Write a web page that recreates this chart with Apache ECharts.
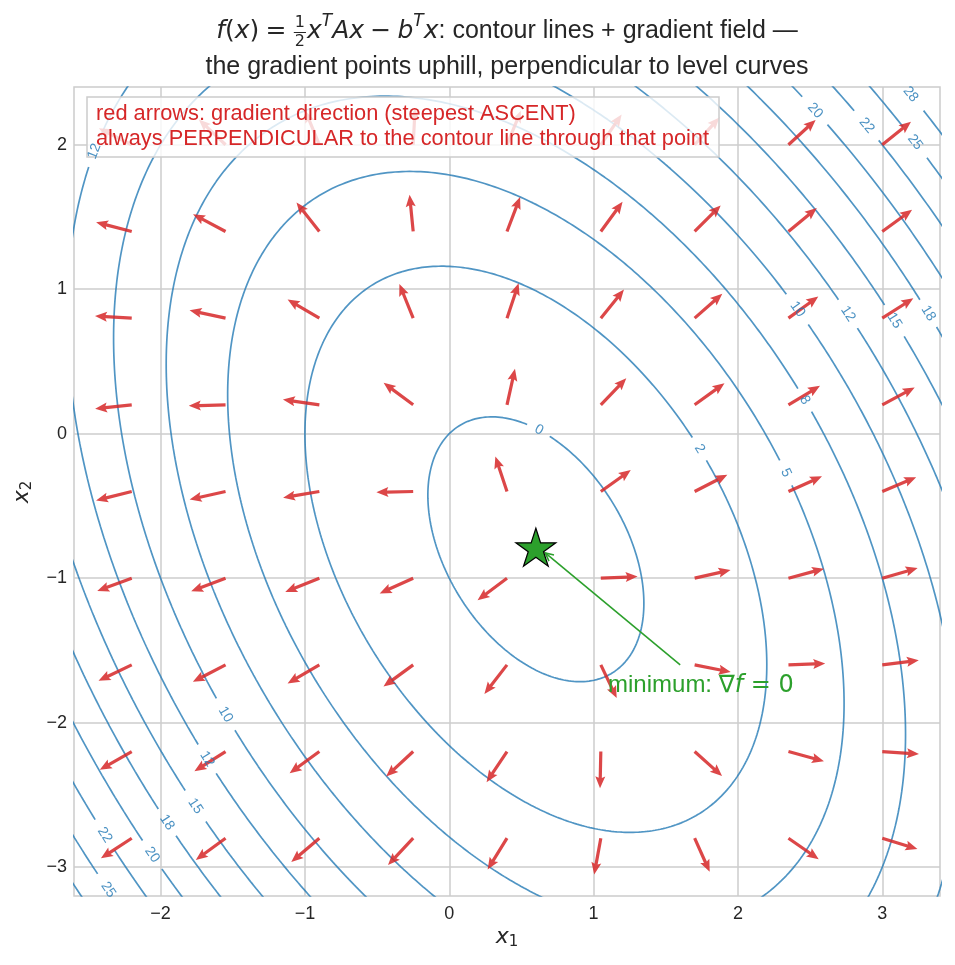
<!DOCTYPE html>
<html>
<head>
<meta charset="utf-8">
<script src="https://cdn.jsdelivr.net/npm/echarts@6/dist/echarts.min.js"></script>
<style>
html, body { margin: 0; padding: 0; background: #fff; }
#main { width: 955px; height: 965px; }
</style>
</head>
<body>
<div id="main"></div>
<script>
// f(x) = 1/2 x^T A x - b^T x
var A = [[3, 1], [1, 2]];
var bVec = [1, -1];
var minPoint = [0.6, -0.8];

// contour levels and the text matplotlib printed on them
var levels = [0, 2.5, 5, 7.5, 10, 12.5, 15, 17.5, 20, 22.5, 25, 27.5];
var levelText = ['0', '2', '5', '8', '10', '12', '15', '18', '20', '22', '25', '28'];

// where the inline labels sit: [level index, x1, x2]
var labelSpots = [
    [0, 0.62, 0.03], [1, 1.74, -0.10], [2, 2.34, -0.26], [3, 2.48, 0.24],
    [4, 2.41, 0.87], [5, 2.77, 0.84], [6, 3.10, 0.78], [7, 3.32, 0.84],
    [8, 2.54, 2.26], [9, 2.90, 2.14], [10, 3.23, 2.03], [11, 3.21, 2.35],
    [5, -2.47, 1.95], [4, -1.55, -1.95], [5, -1.67, -2.26], [6, -1.75, -2.57],
    [7, -1.95, -2.69], [8, -2.05, -2.92], [9, -2.37, -2.78], [10, -2.36, -3.14]
];

// quiver grid
var arrowX = [-2.2, -1.55, -0.9, -0.25, 0.4, 1.05, 1.7, 2.35, 3.0];
var arrowY = [-2.8, -2.2, -1.6, -1.0, -0.4, 0.2, 0.8, 1.4, 2.0];
var arrowLen = 0.255;

var xTicks = [-2, -1, 0, 1, 2, 3];
var yTicks = [-3, -2, -1, 0, 1, 2];
var xRange = [-2.6, 3.4];
var yRange = [-3.2, 2.4];

var G = { left: 74, right: 15, top: 87, bottom: 69 };
var W = 955, H = 965;
var pxX = (W - G.left - G.right) / (xRange[1] - xRange[0]);
var pxY = (H - G.top - G.bottom) / (yRange[1] - yRange[0]);

var BLUE = '#1f77b4', RED = '#d62728', GREEN = '#2ca02c', INK = '#262626';
var SANS = '"Liberation Sans", Arial, sans-serif';
var MATH = '"DejaVu Sans", sans-serif';
var SP = '\u2005';

function fval(x, y) {
    return 0.5 * (A[0][0] * x * x + 2 * A[0][1] * x * y + A[1][1] * y * y) - bVec[0] * x - bVec[1] * y;
}
function grad(x, y) {
    return [A[0][0] * x + A[0][1] * y - bVec[0], A[1][0] * x + A[1][1] * y - bVec[1]];
}
var fmin = fval(minPoint[0], minPoint[1]);

var mctx = document.createElement('canvas').getContext('2d');
function tw(font, s) { mctx.font = font; return mctx.measureText(s).width; }

// lay out a run of mixed text pieces, returns graphic children
function runLine(segs, x0, midY, align, color) {
    var total = 0;
    segs.forEach(function (s) {
        if (s.frac) {
            s.w = Math.max(tw(s.font, s.frac[0]), tw(s.font, s.frac[1])) + 4;
        } else {
            s.w = tw(s.font, s.s);
        }
        total += s.w;
    });
    var x = align === 'center' ? x0 - total / 2 : x0;
    var out = [];
    segs.forEach(function (s) {
        if (s.frac) {
            var cx = x + s.w / 2;
            out.push({ type: 'text', x: cx, y: midY - 8, style: { text: s.frac[0], font: s.font, fill: color, align: 'center', verticalAlign: 'middle', textAlign: 'center', textVerticalAlign: 'middle' } });
            out.push({ type: 'text', x: cx, y: midY + 11, style: { text: s.frac[1], font: s.font, fill: color, align: 'center', verticalAlign: 'middle', textAlign: 'center', textVerticalAlign: 'middle' } });
            out.push({ type: 'line', shape: { x1: x + 1, y1: midY + 1.5, x2: x + s.w - 1, y2: midY + 1.5 }, style: { stroke: color, lineWidth: 1 } });
        } else {
            out.push({ type: 'text', x: x, y: midY + (s.dy || 0), style: { text: s.s, font: s.font, fill: color, align: 'left', verticalAlign: 'middle', textAlign: 'left', textVerticalAlign: 'middle' } });
        }
        x += s.w;
    });
    return out;
}

// contour polylines with gaps where the labels go
var NPT = 720;
var contourPts = levels.map(function (c) {
    var pts = [];
    for (var i = 0; i <= NPT; i++) {
        var t = 2 * Math.PI * i / NPT;
        var d = [Math.cos(t), Math.sin(t)];
        var q = A[0][0] * d[0] * d[0] + 2 * A[0][1] * d[0] * d[1] + A[1][1] * d[1] * d[1];
        var r = Math.sqrt(2 * (c - fmin) / q);
        pts.push([minPoint[0] + r * d[0], minPoint[1] + r * d[1]]);
    }
    return pts;
});

var LABEL_FONT = '14px ' + SANS;
var gapMask = levels.map(function () { return []; });
var labelData = labelSpots.map(function (sp) {
    var li = sp[0], pts = contourPts[li];
    var best = 0, bd = 1e9;
    for (var i = 0; i < pts.length; i++) {
        var dx = (pts[i][0] - sp[1]) * pxX, dy = (pts[i][1] - sp[2]) * pxY;
        var dd = dx * dx + dy * dy;
        if (dd < bd) { bd = dd; best = i; }
    }
    var p = pts[best];
    var a = pts[(best - 1 + pts.length) % pts.length], b = pts[(best + 1) % pts.length];
    var ang = Math.atan2(-(b[1] - a[1]) * pxY, (b[0] - a[0]) * pxX);
    if (ang > Math.PI / 2) ang -= Math.PI;
    if (ang < -Math.PI / 2) ang += Math.PI;
    var half = tw(LABEL_FONT, levelText[li]) / 2 + 8;
    for (var j = 0; j < pts.length; j++) {
        var ex = (pts[j][0] - p[0]) * pxX, ey = (pts[j][1] - p[1]) * pxY;
        if (ex * ex + ey * ey < half * half) gapMask[li][j] = true;
    }
    return [p[0], p[1], -ang, levelText[li]];
});

var contourSeries = levels.map(function (c, li) {
    var data = contourPts[li].map(function (p, j) {
        return gapMask[li][j] ? ['-', '-'] : p;
    });
    return {
        type: 'line',
        data: data,
        showSymbol: false,
        symbol: 'none',
        connectNulls: false,
        silent: true,
        z: 2,
        lineStyle: { color: BLUE, opacity: 0.78, width: 1.7 },
        animation: false
    };
});

var arrowData = [];
arrowY.forEach(function (y) {
    arrowX.forEach(function (x) { arrowData.push([x, y]); });
});

function starPath() {
    var s = 'path://';
    for (var k = 0; k < 10; k++) {
        var r = k % 2 === 0 ? 1 : 0.382;
        var a = -Math.PI / 2 + k * Math.PI / 5;
        s += (k === 0 ? 'M' : 'L') + (r * Math.cos(a)).toFixed(4) + ' ' + (r * Math.sin(a)).toFixed(4) + ' ';
    }
    return s + 'Z';
}

var chart = echarts.init(document.getElementById('main'), null, { renderer: 'canvas' });

var titleLine1 = runLine([
    { s: 'f', font: 'italic 25px ' + MATH },
    { s: '(', font: '25px ' + MATH },
    { s: 'x', font: 'italic 25px ' + MATH },
    { s: ')' + SP + '=' + SP, font: '25px ' + MATH },
    { frac: ['1', '2'], font: '16px ' + MATH },
    { s: 'x', font: 'italic 25px ' + MATH },
    { s: 'T', font: 'italic 17px ' + MATH, dy: -9 },
    { s: 'Ax', font: 'italic 25px ' + MATH },
    { s: SP + '\u2212' + SP, font: '25px ' + MATH },
    { s: 'b', font: 'italic 25px ' + MATH },
    { s: 'T', font: 'italic 17px ' + MATH, dy: -9 },
    { s: 'x', font: 'italic 25px ' + MATH },
    { s: ': contour lines + gradient field \u2014', font: '25px ' + SANS }
], 507, 31, 'center', INK);

var titleLine2 = runLine([
    { s: 'the gradient points uphill, perpendicular to level curves', font: '25px ' + SANS }
], 507, 67, 'center', INK);

var xName = runLine([
    { s: 'x', font: 'italic 22px ' + MATH },
    { s: '1', font: '15px ' + MATH, dy: 5 }
], 507, 937, 'center', INK);

var yName = runLine([
    { s: 'x', font: 'italic 22px ' + MATH },
    { s: '2', font: '15px ' + MATH, dy: 5 }
], 0, 0, 'center', INK);

var minLabel = [
    { s: 'minimum: ', font: '24px ' + SANS },
    { s: '\u2207', font: '24px ' + MATH },
    { s: 'f', font: 'italic 24px ' + MATH },
    { s: ' = 0', font: '24px ' + MATH }
];

var option = {
    animation: false,
    backgroundColor: '#ffffff',
    grid: {
        left: G.left, right: G.right, top: G.top, bottom: G.bottom,
        show: true, borderColor: '#cccccc', borderWidth: 1.5,
        containLabel: false
    },
    xAxis: {
        type: 'value', min: xRange[0], max: xRange[1],
        axisLine: { show: false },
        axisTick: { show: false, customValues: xTicks },
        axisLabel: {
            customValues: xTicks, fontSize: 18, color: INK, fontFamily: SANS, margin: 9,
            formatter: function (v) { return String(v).replace('-', '\u2212'); }
        },
        splitLine: { show: true, lineStyle: { color: '#cccccc', width: 1.5 } }
    },
    yAxis: {
        type: 'value', min: yRange[0], max: yRange[1],
        axisLine: { show: false },
        axisTick: { show: false, customValues: yTicks },
        axisLabel: {
            customValues: yTicks, fontSize: 18, color: INK, fontFamily: SANS, margin: 7,
            formatter: function (v) { return String(v).replace('-', '\u2212'); }
        },
        splitLine: { show: true, lineStyle: { color: '#cccccc', width: 1.5 } }
    },
    graphic: [
        { type: 'group', children: titleLine1.concat(titleLine2).concat(xName), z: 100 },
        { type: 'group', x: 22, y: 492, rotation: Math.PI / 2, children: yName, z: 100 },
        {
            type: 'rect', z: 100,
            shape: { x: 87, y: 97, width: 632, height: 60 },
            style: { fill: 'rgba(255,255,255,0.8)', stroke: '#cccccc', lineWidth: 1.5 }
        },
        {
            type: 'text', z: 101, x: 96, y: 114,
            style: { text: 'red arrows: gradient direction (steepest ASCENT)', font: '21.8px ' + SANS, fill: RED, verticalAlign: 'middle', textVerticalAlign: 'middle' }
        },
        {
            type: 'text', z: 101, x: 96, y: 139,
            style: { text: 'always PERPENDICULAR to the contour line through that point', font: '21.8px ' + SANS, fill: RED, verticalAlign: 'middle', textVerticalAlign: 'middle' }
        }
    ],
    series: contourSeries.concat([
        {
            type: 'custom',
            z: 110,
            silent: true,
            data: labelData,
            renderItem: function (params, api) {
                var p = api.coord([api.value(0), api.value(1)]);
                var d = labelData[params.dataIndex];
                return {
                    type: 'text', x: p[0], y: p[1], rotation: d[2],
                    style: { text: d[3], font: LABEL_FONT, fill: BLUE, opacity: 0.8, align: 'center', verticalAlign: 'middle', textAlign: 'center', textVerticalAlign: 'middle' }
                };
            }
        },
        {
            type: 'custom',
            z: 4,
            silent: true,
            data: arrowData,
            renderItem: function (params, api) {
                var x = api.value(0), y = api.value(1);
                var g = grad(x, y);
                var n = Math.sqrt(g[0] * g[0] + g[1] * g[1]);
                var p0 = api.coord([x, y]);
                var p1 = api.coord([x + arrowLen * g[0] / n, y + arrowLen * g[1] / n]);
                var dx = p1[0] - p0[0], dy = p1[1] - p0[1];
                var L = Math.sqrt(dx * dx + dy * dy);
                var ux = dx / L, uy = dy / L, nx = -uy, ny = ux;
                var sw = 1.6, hw = 5, hl = 12, ha = 10.5;
                function pt(along, side) {
                    return [p0[0] + ux * along + nx * side, p0[1] + uy * along + ny * side];
                }
                return {
                    type: 'polygon',
                    shape: { points: [pt(0, sw), pt(L - ha, sw), pt(L - hl, hw), pt(L, 0), pt(L - hl, -hw), pt(L - ha, -sw), pt(0, -sw)] },
                    style: { fill: RED, opacity: 0.85 }
                };
            }
        },
        {
            type: 'custom',
            z: 5,
            silent: true,
            data: [[1.6, -1.6, 0.665, -0.825, 1.1, -1.745]],
            renderItem: function (params, api) {
                var a = api.coord([api.value(0), api.value(1)]);
                var b = api.coord([api.value(2), api.value(3)]);
                var t = api.coord([api.value(4), api.value(5)]);
                var ang = Math.atan2(a[1] - b[1], a[0] - b[0]);
                var hl = 9, spread = 0.45;
                var w1 = [b[0] + hl * Math.cos(ang + spread), b[1] + hl * Math.sin(ang + spread)];
                var w2 = [b[0] + hl * Math.cos(ang - spread), b[1] + hl * Math.sin(ang - spread)];
                return {
                    type: 'group',
                    children: [
                        { type: 'polyline', shape: { points: [a, b] }, style: { stroke: GREEN, lineWidth: 1.6, fill: null } },
                        { type: 'polyline', shape: { points: [w1, b, w2] }, style: { stroke: GREEN, lineWidth: 1.6, fill: null } }
                    ].concat(runLine(minLabel.map(function (s) { return Object.assign({}, s); }), t[0], t[1], 'left', GREEN))
                };
            }
        },
        {
            type: 'scatter',
            z: 6,
            silent: true,
            data: [minPoint],
            symbol: starPath(),
            symbolSize: [40, 38],
            symbolOffset: [0, -2],
            itemStyle: { color: GREEN, borderColor: '#000000', borderWidth: 1.2, opacity: 1 }
        }
    ])
};

chart.setOption(option);
</script>
</body>
</html>
